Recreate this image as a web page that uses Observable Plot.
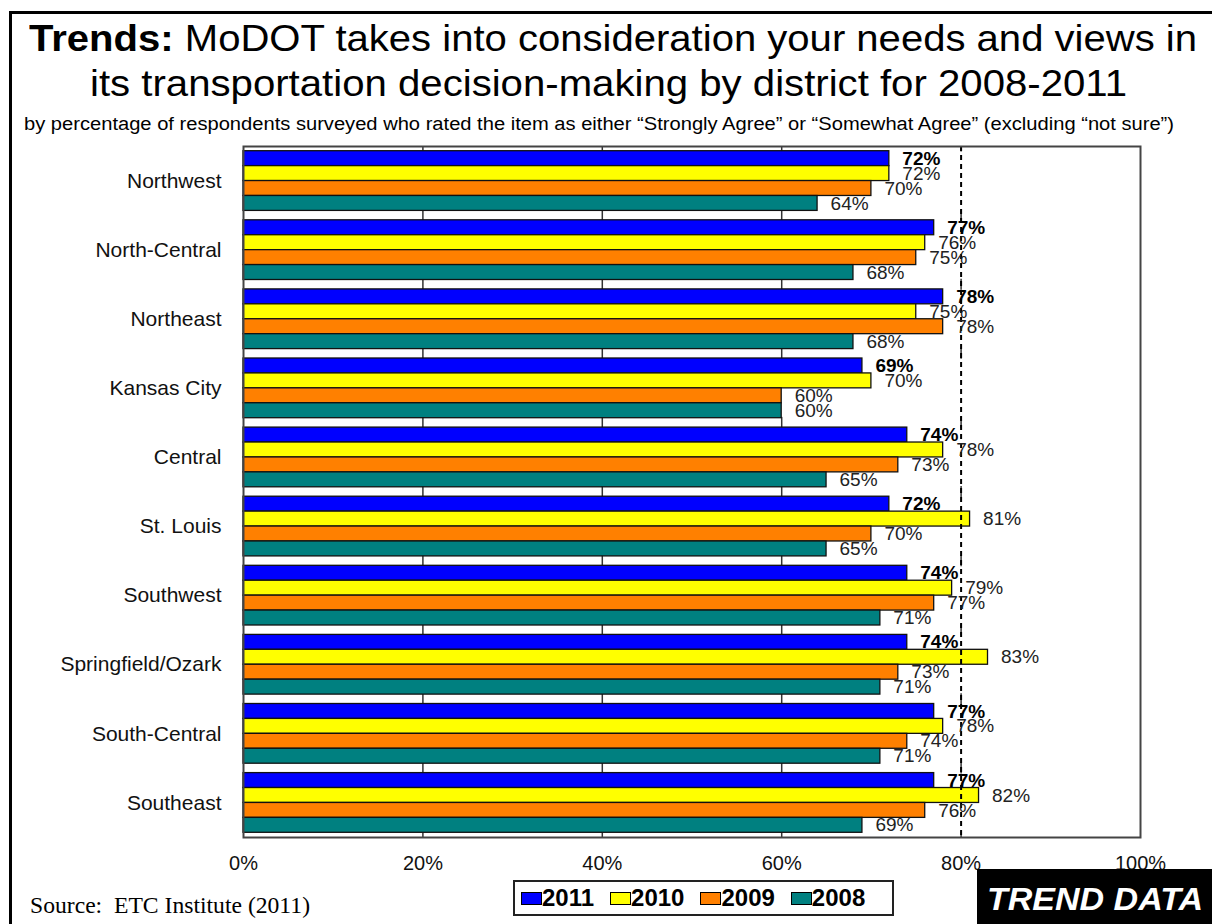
<!DOCTYPE html>
<html>
<head>
<meta charset="utf-8">
<script src="https://cdn.jsdelivr.net/npm/d3@7"></script>
<script src="https://cdn.jsdelivr.net/npm/@observablehq/plot@0.6"></script>
<style>
  body { margin: 0; background: #fff; }
  #page { position: relative; width: 1212px; height: 924px; overflow: hidden; background: #fff;
          font-family: "Liberation Sans", Arial, sans-serif; color: #000; }
  #border { position: absolute; left: 9px; top: 11px; right: -20px; bottom: -20px;
            border-left: 3px solid #000; border-top: 3px solid #000; }
  .fit { position: absolute; white-space: nowrap; line-height: 1; transform-origin: 0 0; }
  #chart { position: absolute; left: 0; top: 0; }
  #legend { position: absolute; left: 513px; top: 880px; width: 371px; height: 32px;
            border: 2px solid #222; display: flex; align-items: center; padding-left: 6px; box-sizing: content-box; }
  .item { display: flex; align-items: center; margin-right: 16px; }
  .sw { width: 19px; height: 11px; border: 1.5px solid #000; }
  .lt { font-weight: bold; font-size: 24px; line-height: 1; }
  #badge { position: absolute; left: 977px; top: 869px; width: 240px; height: 60px; background: #000; }
</style>
</head>
<body>
<div id="page">
  <div id="border"></div>
  <div id="chart"></div>
  <div id="legend"></div>
  <div id="badge"></div>
</div>
<script>
// ---- data ----
const districts = ["Northwest", "North-Central", "Northeast", "Kansas City", "Central",
                   "St. Louis", "Southwest", "Springfield/Ozark", "South-Central", "Southeast"];
const years = ["2011", "2010", "2009", "2008"];
const colors = ["#0000FF", "#FFFF00", "#FF8000", "#008080"];
const v2011 = [72, 77, 78, 69, 74, 72, 74, 74, 77, 77];
const v2010 = [72, 76, 75, 70, 78, 81, 79, 83, 78, 82];
const v2009 = [70, 75, 78, 60, 73, 70, 77, 73, 74, 76];
const v2008 = [64, 68, 68, 60, 65, 65, 71, 71, 71, 69];
const xTicks = [0, 20, 40, 60, 80, 100];
const reference = 80;

const series = [v2011, v2010, v2009, v2008];
const rows = [];
districts.forEach((d, i) => {
  years.forEach((y, j) => rows.push({district: d, year: y, value: series[j][i], i, j}));
});

const pad = 0.068, bh = 0.216;
const boundaryTicks = [];
d3.range(0, districts.length + 1).forEach(b => {
  [20, 40, 60, 80].forEach(x => boundaryTicks.push({b, x}));
});

const font = '"Liberation Sans", Arial, sans-serif';

const chart = Plot.plot({
  width: 1212,
  height: 924,
  marginTop: 146,
  marginBottom: 87,
  marginLeft: 243,
  marginRight: 72,
  style: {fontFamily: font, fontSize: "20px", color: "#111", background: "transparent", overflow: "visible"},
  x: {domain: [0, 100], ticks: xTicks, tickFormat: d => d + "%", tickSize: 0, tickPadding: 18, label: null},
  y: {domain: [0, districts.length], reverse: true, axis: null},
  color: {domain: years, range: colors},
  marks: [
    Plot.ruleX(boundaryTicks, {x: "x", y1: d => Math.max(0, d.b - 0.08), y2: d => Math.min(districts.length, d.b + 0.08),
                               stroke: "#333", strokeWidth: 1.5}),
    Plot.rectX(rows, {x1: 0, x2: "value",
                      y1: d => d.i + pad + d.j * bh, y2: d => d.i + pad + (d.j + 1) * bh,
                      fill: "year", stroke: "#111", strokeWidth: 1.3}),
    Plot.ruleX([reference], {stroke: "#000", strokeWidth: 2, strokeDasharray: "5,4"}),
    Plot.frame({stroke: "#444", strokeWidth: 2}),
    Plot.text(rows.filter(d => d.year !== "2011"), {x: "value", y: d => d.i + pad + (d.j + 0.5) * bh,
              text: d => d.value + "%", dx: 13, textAnchor: "start", fontSize: 19, fill: "#222"}),
    Plot.text(rows.filter(d => d.year === "2011"), {x: "value", y: d => d.i + pad + (d.j + 0.5) * bh,
              text: d => d.value + "%", dx: 13, textAnchor: "start", fontSize: 19, fontWeight: "bold", fill: "#000"}),
    Plot.text(districts, {frameAnchor: "left", y: (d, i) => i + 0.5, text: d => d, dx: -22,
              textAnchor: "end", fontSize: 21, fill: "#111"})
  ]
});
document.getElementById("chart").appendChild(chart);

// ---- legend ----
const legend = document.getElementById("legend");
years.forEach((y, k) => {
  const it = document.createElement("div");
  it.className = "item";
  const sw = document.createElement("div");
  sw.className = "sw";
  sw.style.background = colors[k];
  const t = document.createElement("span");
  t.className = "lt";
  t.textContent = y;
  it.appendChild(sw); it.appendChild(t);
  legend.appendChild(it);
});

// ---- fitted text (titles, source, badge) ----
const page = document.getElementById("page");
function fitText(html, opts) {
  const el = document.createElement("div");
  el.className = "fit";
  el.innerHTML = html;
  el.style.fontSize = opts.size + "px";
  el.style.fontFamily = opts.family || font;
  if (opts.weight) el.style.fontWeight = opts.weight;
  if (opts.italic) el.style.fontStyle = "italic";
  el.style.color = opts.color || "#000";
  el.style.left = opts.x + "px";
  el.style.top = (opts.baseline - (opts.asc || 0.8465) * opts.size) + "px";
  page.appendChild(el);
  const w = el.getBoundingClientRect().width;
  el.style.transform = `scaleX(${opts.width / w})`;
  return el;
}
fitText('<b>Trends:</b> MoDOT takes into consideration your needs and views in',
        {x: 29, width: 1168, baseline: 51, size: 36});
fitText('its transportation decision-making by district for 2008-2011',
        {x: 90, width: 1037, baseline: 96, size: 36});
fitText('by percentage of respondents surveyed who rated the item as either \u201cStrongly Agree\u201d or \u201cSomewhat Agree\u201d (excluding \u201cnot sure\u201d)',
        {x: 24, width: 1150, baseline: 130, size: 18});
fitText('Source:&nbsp; ETC Institute (2011)',
        {x: 30, width: 280, baseline: 914, size: 23, family: '"Liberation Serif", "Times New Roman", serif', asc: 0.85});
fitText('TREND DATA', {x: 987, width: 216, baseline: 910, size: 31, weight: "bold", italic: true, color: "#fff"});
</script>
</body>
</html>
